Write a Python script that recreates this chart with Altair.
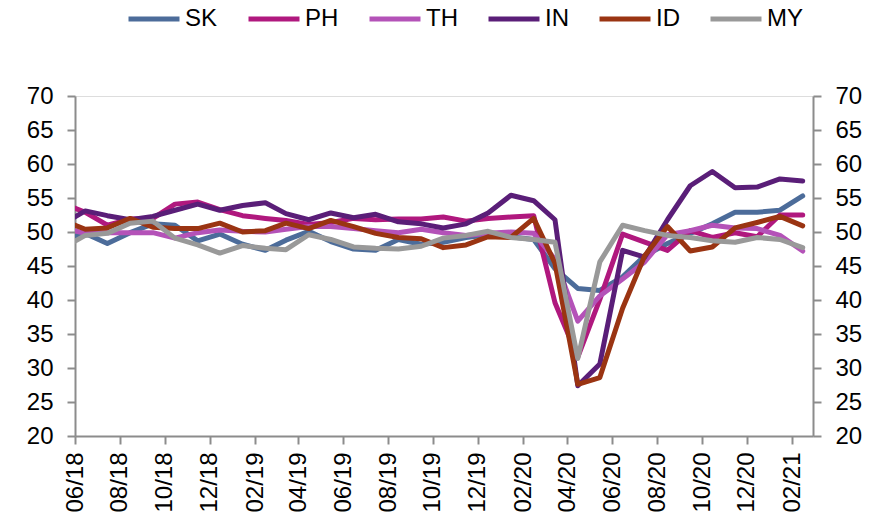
import altair as alt
import pandas as pd

# Monthly observations (plotted mid-month); the May-2018 point is clipped at the axis start
months = [
    "2018/05/15", "2018/06/15", "2018/07/15", "2018/08/15", "2018/09/15", "2018/10/15",
    "2018/11/15", "2018/12/15", "2019/01/15", "2019/02/15", "2019/03/15", "2019/04/15",
    "2019/05/15", "2019/06/15", "2019/07/15", "2019/08/15", "2019/09/15", "2019/10/15",
    "2019/11/15", "2019/12/15", "2020/01/15", "2020/02/15", "2020/03/15", "2020/04/15",
    "2020/05/15", "2020/06/15", "2020/07/15", "2020/08/15", "2020/09/15", "2020/10/15",
    "2020/11/15", "2020/12/15", "2021/01/15", "2021/02/15",
]

SK = [48.9, 49.8, 48.3, 49.9, 51.2, 51.0, 48.7, 49.7, 48.2, 47.3, 48.8, 50.1,
      48.6, 47.5, 47.3, 48.9, 48.2, 48.5, 49.2, 49.6, 49.3, 48.9, 44.6, 41.7,
      41.4, 43.4, 46.5, 48.3, 49.8, 51.2, 52.9, 52.9, 53.2, 55.3]
PH = [54.2, 52.9, 51.0, 51.9, 52.0, 54.1, 54.4, 53.3, 52.4, 52.0, 51.7, 51.1,
      51.4, 52.0, 51.8, 51.9, 51.9, 52.2, 51.6, 52.0, 52.2, 52.4, 39.6, 31.6,
      40.1, 49.7, 48.5, 47.3, 50.2, 49.2, 49.9, 49.3, 52.5, 52.5]
TH = [50.6, 49.8, 49.9, 49.9, 49.9, 49.1, 49.9, 50.3, 50.1, 50.0, 50.4, 50.8,
      50.8, 50.5, 50.2, 49.9, 50.4, 49.9, 49.5, 49.8, 50.0, 49.8, 46.0, 36.9,
      40.6, 43.1, 45.6, 49.6, 50.2, 51.0, 50.6, 50.5, 49.5, 47.2]
IN = [51.2, 53.1, 52.4, 51.8, 52.3, 53.2, 54.1, 53.2, 53.9, 54.3, 52.7, 51.8,
      52.8, 52.1, 52.6, 51.5, 51.2, 50.6, 51.2, 52.8, 55.4, 54.6, 51.8, 27.4,
      30.6, 47.3, 46.3, 51.8, 56.8, 58.9, 56.5, 56.6, 57.8, 57.5]
ID = [51.7, 50.4, 50.6, 52.0, 50.7, 50.5, 50.5, 51.3, 50.0, 50.2, 51.3, 50.5,
      51.7, 50.8, 49.8, 49.2, 49.0, 47.7, 48.1, 49.3, 49.2, 52.0, 45.4, 27.6,
      28.6, 38.8, 46.5, 50.8, 47.2, 47.8, 50.6, 51.4, 52.3, 50.9]
MY = [47.6, 49.5, 49.8, 51.3, 51.6, 49.1, 48.1, 46.9, 48.0, 47.6, 47.4, 49.6,
      48.9, 47.8, 47.6, 47.5, 47.9, 49.1, 49.5, 50.1, 49.2, 48.9, 48.5, 31.4,
      45.6, 51.0, 50.2, 49.5, 49.2, 48.7, 48.5, 49.2, 48.9, 47.7]

series_names = ["SK", "PH", "TH", "IN", "ID", "MY"]
series_values = [SK, PH, TH, IN, ID, MY]
series_colors = ["#4C6C9A", "#B0187E", "#B452B8", "#5A1E78", "#9A3412", "#999999"]

# x-axis tick positions (every two months, 06/18 .. 02/21)
tick_months = [(2018, 6), (2018, 8), (2018, 10), (2018, 12), (2019, 2), (2019, 4),
               (2019, 6), (2019, 8), (2019, 10), (2019, 12), (2020, 2), (2020, 4),
               (2020, 6), (2020, 8), (2020, 10), (2020, 12), (2021, 2)]
y_ticks = [20, 25, 30, 35, 40, 45, 50, 55, 60, 65, 70]

rows = []
for name, vals in zip(series_names, series_values):
    for d, v in zip(months, vals):
        rows.append({"date": d, "series": name, "value": v})
df = pd.DataFrame(rows)

FONT = "Liberation Sans"
AXIS_GREY = "#8C8C8C"

x_enc = alt.X(
    "date:T",
    title=None,
    scale=alt.Scale(domain=[alt.DateTime(year=2018, month=6, date=1),
                            alt.DateTime(year=2021, month=3, date=1)]),
    axis=alt.Axis(
        values=[alt.DateTime(year=y, month=m, date=1) for y, m in tick_months],
        format="%m/%y", labelAngle=270, labelFontSize=24, labelFont=FONT,
        labelColor="#000000", labelPadding=8, tickSize=8, tickWidth=2,
        tickColor=AXIS_GREY, domainColor=AXIS_GREY, domainWidth=2, grid=False,
        labelOverlap=False,
    ),
)

y_scale = alt.Scale(domain=[20, 70], nice=False, zero=False)

def y_axis(orient):
    return alt.Axis(
        orient=orient, values=y_ticks, labelFontSize=24, labelFont=FONT,
        labelColor="#000000", labelPadding=14, tickSize=8, tickWidth=2,
        tickColor=AXIS_GREY, domainColor=AXIS_GREY, domainWidth=2, grid=False,
        title=None,
    )

lines = alt.Chart(df).mark_line(
    strokeWidth=5, clip=True, strokeJoin="round", strokeCap="round"
).encode(
    x=x_enc,
    y=alt.Y("value:Q", scale=y_scale, axis=y_axis("left")),
    color=alt.Color(
        "series:N",
        scale=alt.Scale(domain=series_names, range=series_colors),
        legend=alt.Legend(
            title=None, orient="none", direction="horizontal",
            legendX=51, legendY=-105,
            symbolType="stroke", symbolSize=2600, symbolStrokeWidth=5,
            labelFontSize=24, labelFont=FONT, labelColor="#000000",
            labelOffset=3, columnPadding=20,
        ),
    ),
)

right = alt.Chart(df).mark_line(opacity=0, clip=True).encode(
    x=x_enc,
    y=alt.Y("value:Q", scale=y_scale, axis=y_axis("right")),
    detail="series:N",
)

chart = alt.layer(lines, right).resolve_axis(y="independent").properties(
    width=738, height=340,
    autosize=alt.AutoSizeParams(type="none"),
    padding={"left": 75, "top": 96, "right": 68, "bottom": 90},
).configure_view(stroke=None).configure(background="#FFFFFF")

chart.save("out.html", embed_options={"renderer": "svg", "actions": False})
